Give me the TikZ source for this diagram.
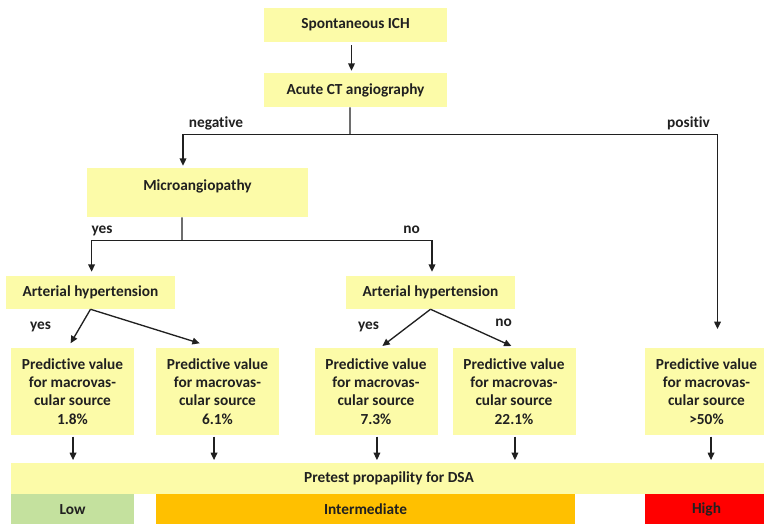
\documentclass[tikz,border=0pt]{standalone}
\usepackage{fontspec}
\setmainfont[Ligatures=NoCommon]{Carlito}
\usetikzlibrary{arrows.meta}
\definecolor{boxyellow}{RGB}{252,251,168}
\definecolor{lowgreen}{RGB}{196,225,158}
\definecolor{midorange}{RGB}{255,192,0}
\definecolor{highred}{RGB}{255,0,0}
\definecolor{ink}{RGB}{32,32,32}
\begin{document}
\begin{tikzpicture}[x=0.75pt,y=-0.75pt,
  txt/.style={font=\fontsize{11.5}{13.7}\selectfont\bfseries, text=ink},
  box/.style={txt, fill=boxyellow, draw=none, inner sep=0pt, align=center},
  lbl/.style={txt, inner sep=0pt},
  conn/.style={line width=1pt, draw=ink},
  arr/.style={conn, -{Triangle[length=5.5pt,width=5pt]}}]
\useasboundingbox (0,0) rectangle (764,524);

% boxes
\node[box, minimum width=137.25pt, minimum height=25.5pt] (ich) at (355.5,25) {Spontaneous ICH};
\node[box, minimum width=137.25pt, minimum height=25.5pt] (cta) at (355.5,90) {Acute CT angiography};
\node[box, minimum width=165.75pt, minimum height=36.75pt,
      label={[lbl, yshift=4.9pt]center:Microangiopathy}] (micro) at (197.5,192.5) {};
\node[box, minimum width=126.75pt, minimum height=24.75pt] (ahl) at (90.5,292.5) {Arterial hypertension};
\node[box, minimum width=126.75pt, minimum height=24.75pt] (ahr) at (430.5,292.5) {Arterial hypertension};

\tikzset{pv/.style={box, minimum width=92.25pt, minimum height=65.25pt}}
\node[pv] (pva) at (72.5,391.5) {Predictive value\\for macrovas-\\cular source\\1.8\%};
\node[pv] (pvb) at (217.5,391.5) {Predictive value\\for macrovas-\\cular source\\6.1\%};
\node[pv] (pvc) at (376,391.5) {Predictive value\\for macrovas-\\cular source\\7.3\%};
\node[pv] (pvd) at (514,391.5) {Predictive value\\for macrovas-\\cular source\\22.1\%};
\node[pv] (pve) at (706.5,391.5) {Predictive value\\for macrovas-\\cular source\\>50\%};

\node[box, minimum width=567pt, minimum height=23.25pt] (pre) at (389,478.5) {Pretest propapility for DSA};
\node[box, fill=lowgreen, minimum width=92.25pt, minimum height=23.25pt] (low) at (72.5,509.5) {Low};
\node[box, fill=midorange, minimum width=314.25pt, minimum height=23.25pt] (mid) at (365.5,509.5) {Intermediate};
\node[box, fill=highred, minimum width=92.25pt, minimum height=23.25pt] (high) at (706.5,509.5) {High};

% labels
\node[lbl] (lneg) at (216,123) {negative};
\node[lbl] (lpos) at (688.5,123) {positiv};
\node[lbl] (lyes1) at (102,230.5) {yes};
\node[lbl] (lno1) at (411.5,230) {no};
\node[lbl] (lyes2) at (40.5,326.5) {yes};
\node[lbl] (lyes3) at (368.5,327) {yes};
\node[lbl] (lno2) at (503.5,322.5) {no};

% connectors
\draw[arr, shorten <=2.2pt, shorten >=1.5pt] ([xshift=-3pt]ich.south) -- ([xshift=-3pt]cta.north);

\coordinate (j1) at (350,134.5);
\coordinate (l1) at (183,134.5);
\coordinate (r1) at (717.5,134.5);
\coordinate (r1e) at (717.5,329);
\draw[conn] ([xshift=-4.1pt]cta.south) -- (j1);
\draw[arr, shorten >=1.5pt] (j1) -- (l1) -- (l1 |- micro.north);
\draw[arr] (j1) -- (r1) -- (r1e);

\coordinate (j2) at (182,240.5);
\coordinate (l2) at (91.6,240.5);
\coordinate (r2) at (432,240.5);
\draw[conn] ([xshift=-11.6pt]micro.south) -- (j2);
\draw[arr, shorten >=3pt] (j2) -- (l2) -- (l2 |- ahl.north);
\draw[arr, shorten >=3pt] (j2) -- (r2) -- (r2 |- ahr.north);

\coordinate (a1) at (70.6,343.3);
\coordinate (a2) at (199.7,343.3);
\coordinate (a3) at (382.4,346);
\coordinate (a4) at (511.4,346);
\draw[arr] (ahl.south) -- (a1);
\draw[arr] (ahl.south) -- (a2);
\draw[arr] (ahr.south) -- (a3);
\draw[arr] (ahr.south) -- (a4);

\foreach \n/\dx in {pva/0.4pt, pvb/-2.6pt, pvc/0.7pt, pvd/0.7pt, pve/3.4pt}{
  \draw[arr, shorten <=1pt, shorten >=2pt] ([xshift=\dx]\n.south) -- ([xshift=\dx]\n.south |- pre.north);
}
\end{tikzpicture}
\end{document}
